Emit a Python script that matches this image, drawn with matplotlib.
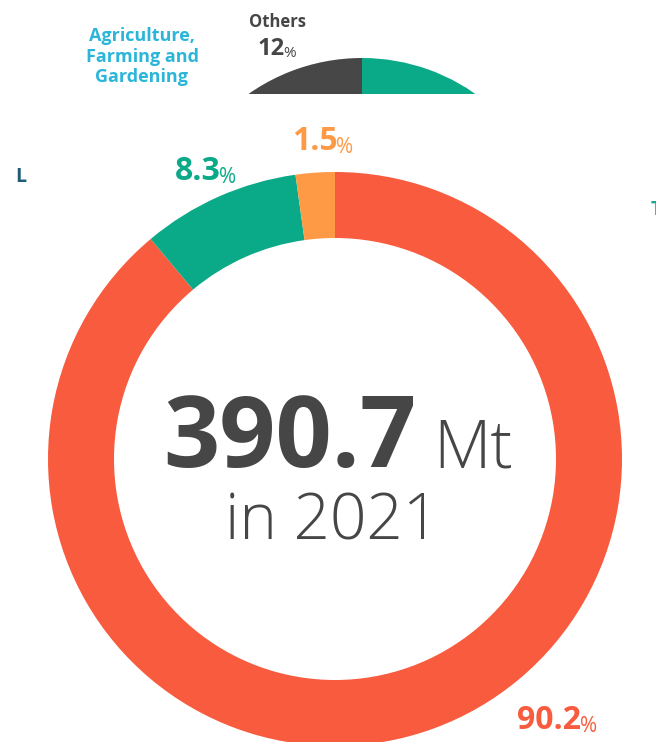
import matplotlib
matplotlib.use("Agg")
import matplotlib.pyplot as plt
from matplotlib.patches import Rectangle

# ---- data ----
main_categories = ["Main", "Agriculture", "Other"]
main_shares = [88.9, 8.9, 2.2]            # arc sizes
main_labels = ["90.2", "8.3", "1.5"]      # printed percentages
main_colors = ["#F85B3D", "#0AA988", "#FE9946"]

top_categories = ["Rest", "Others"]
top_shares = [88, 12]
top_colors = ["#0AA988", "#474747"]

total_value = "390.7"
total_unit = "Mt"
year_text = "in 2021"

W, H = 656, 742
DPI = 100
fig = plt.figure(figsize=(W / DPI, H / DPI), dpi=DPI)
fig.patch.set_facecolor("white")

FONT = "Open Sans"
GRAY = "#464646"

def Y(py):
    return H - py

# ---- main donut ----
ax = fig.add_axes([0, 0, 1, 1])
ax.pie(main_shares, colors=main_colors, startangle=90, counterclock=False,
       center=(335, Y(459)), radius=287,
       wedgeprops=dict(width=66, linewidth=0))
ax.set_xlim(0, W)
ax.set_ylim(0, H)
ax.set_aspect("auto")
ax.axis("off")

# center text
ax.text(163, Y(467), total_value, fontsize=71, fontweight="bold", color=GRAY,
        family=FONT, ha="left", va="baseline")
ax.text(433, Y(467), total_unit, fontsize=48, color=GRAY, fontweight="light",
        family=FONT, ha="left", va="baseline")
ax.text(332, Y(540), year_text, fontsize=46, color=GRAY, fontweight="light",
        family=FONT, ha="center", va="baseline")

def pct_label(x, py, txt, color, size, psize, ha="left"):
    t = ax.text(x, Y(py), txt, fontsize=size, fontweight="bold", color=color,
                family=FONT, ha=ha, va="baseline")
    ax.annotate("%", xy=(1, 0), xycoords=t, xytext=(-1, 0),
                textcoords="offset points", fontsize=psize, color=color,
                family=FONT, ha="left", va="bottom")
    return t

pct_label(175, 180, main_labels[1], main_colors[1], 23, 15)
pct_label(292, 150, main_labels[2], main_colors[2], 23, 15)
pct_label(517, 729, main_labels[0], main_colors[0], 23, 15)

# cut-off side labels
tl = ax.text(15, Y(182), "L", fontsize=14, fontweight="bold", color="#1D5E74",
             family=FONT, ha="left", va="baseline")
clip = Rectangle((0, 0), 23, H, transform=ax.transData)
tl.set_clip_path(clip)
ax.text(651, Y(215), "T", fontsize=14, fontweight="bold", color="#1AA79A",
        family=FONT, ha="left", va="baseline", clip_on=False)

# ---- top strip with the other donut ----
STRIP = 94
ax2 = fig.add_axes([0, 1 - STRIP / H, 1, STRIP / H])
wedges, _ = ax2.pie(top_shares, colors=top_colors, startangle=90, counterclock=False,
                    center=(362, Y(255)), radius=197,
                    wedgeprops=dict(width=60, linewidth=0))
ax2.set_xlim(0, W)
ax2.set_ylim(H - STRIP, H)
ax2.set_aspect("auto")
ax2.axis("off")
for w in wedges:
    w.set_clip_on(True)
    w.set_clip_path(ax2.patch)

ax2.text(278, Y(27), "Others", fontsize=12, fontweight="bold", color=GRAY,
         family=FONT, ha="center", va="baseline")
t12 = ax2.text(258, Y(55), "12", fontsize=17, fontweight="bold", color=GRAY,
               family=FONT, ha="left", va="baseline")
ax2.annotate("%", xy=(1, 0), xycoords=t12, xytext=(-1, 0),
             textcoords="offset points", fontsize=11, color=GRAY,
             family=FONT, ha="left", va="bottom")
for line, py in zip(["Agriculture,", "Farming and", "Gardening"], [41, 62, 82]):
    ax2.text(142, Y(py), line, fontsize=13, fontweight="bold", color="#2BB6D9",
             family=FONT, ha="center", va="baseline")

fig.savefig("out.png", dpi=DPI, facecolor="white")
